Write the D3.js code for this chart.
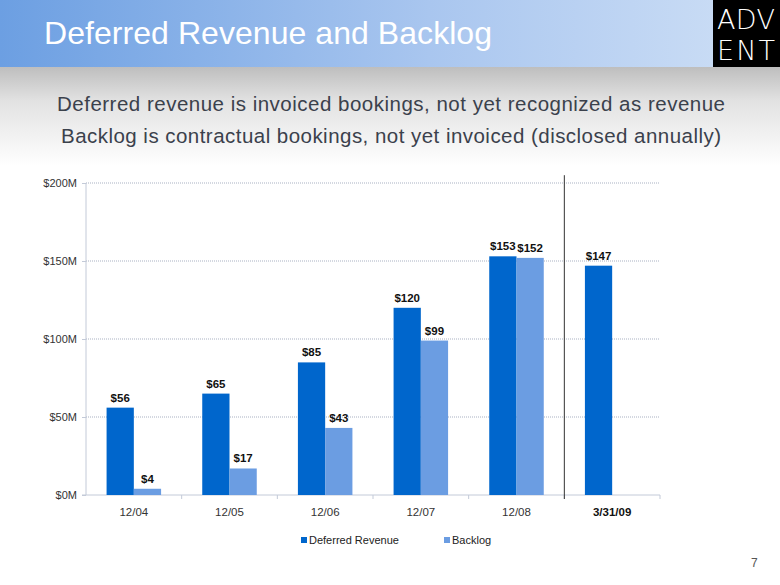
<!DOCTYPE html>
<html>
<head>
<meta charset="utf-8">
<script src="https://cdn.jsdelivr.net/npm/d3@7"></script>
<style>
  body { margin: 0; background: #fff; }
  svg { display: block; font-family: Arial, "Liberation Sans", sans-serif; }
</style>
</head>
<body>
<div id="chart"></div>
<script>
// chart data
var categories = ["12/04", "12/05", "12/06", "12/07", "12/08", "3/31/09"];
var deferredRevenue = [56, 65, 85, 120, 153, 147];
var backlog = [4, 17, 43, 99, 152, null];
var seriesNames = ["Deferred Revenue", "Backlog"];
var yTicks = [0, 50, 100, 150, 200];

var W = 780, H = 585;
var margin = {top: 183, right: 120, bottom: 90, left: 86},
    width = W - margin.left - margin.right,
    height = H - margin.top - margin.bottom;

var colors = ["#0066cc", "#6b9de2"];

var svg = d3.select("#chart").append("svg")
  .attr("width", W)
  .attr("height", H);

// background gradients
var defs = svg.append("defs");
var banner = defs.append("linearGradient").attr("id", "banner");
banner.append("stop").attr("offset", "0%").attr("stop-color", "#6c9fe2");
banner.append("stop").attr("offset", "55%").attr("stop-color", "#a9c6ef");
banner.append("stop").attr("offset", "100%").attr("stop-color", "#cfe0f6");

var shade = defs.append("linearGradient").attr("id", "shade")
  .attr("x1", 0).attr("y1", 0).attr("x2", 0).attr("y2", 1);
shade.append("stop").attr("offset", "0%").attr("stop-color", "#bdbdbd");
shade.append("stop").attr("offset", "35%").attr("stop-color", "#e2e2e2");
shade.append("stop").attr("offset", "100%").attr("stop-color", "#ffffff");

svg.append("rect").attr("x", 0).attr("y", 66).attr("width", W).attr("height", 100)
  .attr("fill", "url(#shade)");
svg.append("rect").attr("x", 0).attr("y", 0).attr("width", W).attr("height", 67)
  .attr("fill", "url(#banner)");

// logo box
svg.append("rect").attr("x", 713).attr("y", 0).attr("width", 67).attr("height", 67)
  .attr("fill", "#000");
svg.append("text").attr("x", 746).attr("y", 29).attr("text-anchor", "middle")
  .attr("fill", "#fff").style("font-size", "27px").style("font-weight", "200")
  .style("font-family", "'DejaVu Sans', sans-serif").attr("textLength", 58)
  .text("ADV");
svg.append("text").attr("x", 746).attr("y", 60).attr("text-anchor", "middle")
  .attr("fill", "#fff").style("font-size", "27px").style("font-weight", "200")
  .style("font-family", "'DejaVu Sans', sans-serif").attr("textLength", 58)
  .text("ENT");

// title and subtitles
svg.append("text").attr("x", 44).attr("y", 44)
  .attr("fill", "#fff").style("font-size", "32px")
  .attr("textLength", 448)
  .text("Deferred Revenue and Backlog");

svg.append("text").attr("x", 391).attr("y", 111).attr("text-anchor", "middle")
  .attr("fill", "#3b414c").style("font-size", "20.5px")
  .attr("textLength", 668)
  .text("Deferred revenue is invoiced bookings, not yet recognized as revenue");
svg.append("text").attr("x", 391).attr("y", 143).attr("text-anchor", "middle")
  .attr("fill", "#3b414c").style("font-size", "20.5px")
  .attr("textLength", 660)
  .text("Backlog is contractual bookings, not yet invoiced (disclosed annually)");

var chartGroup = svg.append("g")
  .attr("transform", `translate(${margin.left}, ${margin.top})`);

// scales
var x0 = d3.scaleBand().domain(categories).range([0, width])
  .paddingInner(0).paddingOuter(0);
var x1 = d3.scaleBand().domain(seriesNames).range([0, x0.bandwidth()])
  .paddingInner(0).paddingOuter(0.755);
var y = d3.scaleLinear().domain([0, 200]).range([height, 0]);

// gridlines
chartGroup.append("g")
  .selectAll("line")
  .data(yTicks.slice(1))
  .join("line")
  .attr("x1", 0).attr("x2", width)
  .attr("y1", d => y(d)).attr("y2", d => y(d))
  .attr("stroke", "#a9b1c2")
  .attr("stroke-width", 1)
  .attr("stroke-dasharray", "1,1");

// y axis
var leftAxis = d3.axisLeft(y).tickValues(yTicks)
  .tickFormat(d => "$" + d + "M").tickSize(4).tickPadding(5);
var yAxisG = chartGroup.append("g").call(leftAxis);
yAxisG.select(".domain").attr("stroke", "#c3cad8").attr("d", `M0,${height}V0`);
yAxisG.selectAll(".tick line").attr("stroke", "#c3cad8");
yAxisG.selectAll("text").attr("fill", "#333").style("font-size", "11px");

// x axis
var xAxisG = chartGroup.append("g")
  .attr("transform", `translate(0, ${height})`);
xAxisG.append("line").attr("x1", -4).attr("x2", width)
  .attr("stroke", "#c3cad8");
xAxisG.selectAll(".xtick")
  .data(categories)
  .join("line")
  .attr("class", "xtick")
  .attr("x1", d => x0(d) + x0.bandwidth()).attr("x2", d => x0(d) + x0.bandwidth())
  .attr("y1", 0).attr("y2", 4)
  .attr("stroke", "#c3cad8");
xAxisG.selectAll(".xlabel")
  .data(categories)
  .join("text")
  .attr("class", "xlabel")
  .attr("x", d => x0(d) + x0.bandwidth() / 2)
  .attr("y", 21)
  .attr("text-anchor", "middle")
  .attr("fill", d => d === "3/31/09" ? "#111" : "#333")
  .style("font-size", "11.5px")
  .style("font-weight", d => d === "3/31/09" ? "bold" : "normal")
  .text(d => d);

// separator line before the quarter
chartGroup.append("line")
  .attr("x1", x0("3/31/09")).attr("x2", x0("3/31/09"))
  .attr("y1", y(205)).attr("y2", height + 4)
  .attr("stroke", "#333").attr("stroke-width", 1);

// bars
var rows = categories.map((c, i) => ({
  cat: c,
  vals: [
    {name: seriesNames[0], v: deferredRevenue[i]},
    {name: seriesNames[1], v: backlog[i]}
  ].filter(d => d.v != null)
}));

var groups = chartGroup.selectAll(".grp")
  .data(rows)
  .join("g")
  .attr("class", "grp")
  .attr("transform", d => `translate(${x0(d.cat)}, 0)`);

groups.selectAll("rect")
  .data(d => d.vals)
  .join("rect")
  .attr("x", d => x1(d.name))
  .attr("y", d => y(d.v))
  .attr("width", x1.bandwidth())
  .attr("height", d => height - y(d.v))
  .attr("fill", d => colors[seriesNames.indexOf(d.name)]);

groups.selectAll("text")
  .data(d => d.vals)
  .join("text")
  .attr("x", d => x1(d.name) + x1.bandwidth() / 2)
  .attr("y", d => y(d.v) - 6)
  .attr("text-anchor", "middle")
  .attr("fill", "#111")
  .style("font-size", "11.5px")
  .style("font-weight", "bold")
  .text(d => "$" + d.v);

// legend
var legend = svg.append("g").attr("transform", "translate(301, 544)");
var legendX = [0, 143];
seriesNames.forEach(function(name, i) {
  legend.append("rect").attr("x", legendX[i]).attr("y", -7)
    .attr("width", 6).attr("height", 6).attr("fill", colors[i]);
  legend.append("text").attr("x", legendX[i] + 8).attr("y", 0)
    .attr("fill", "#222").style("font-size", "11px").text(name);
});

// page number
svg.append("text").attr("x", 751).attr("y", 567)
  .attr("fill", "#555").style("font-size", "12px").text("7");
</script>
</body>
</html>
